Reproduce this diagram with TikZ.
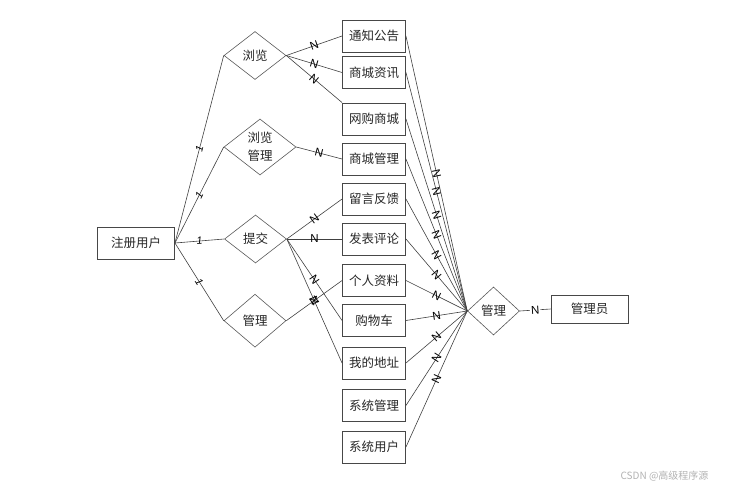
\documentclass[tikz,border=0pt]{standalone}
\usepackage{fontspec}
\setmainfont{Liberation Sans}
\newfontfamily\cjk{Noto Sans CJK SC}
\usetikzlibrary{shapes.geometric}
\begin{document}
\begin{tikzpicture}[x=1pt,y=-1pt,
  ent/.style={draw=black!72,line width=0.9pt,minimum width=63pt,minimum height=32pt,inner sep=0pt,font=\cjk\fontsize{12.5}{16}\selectfont,text=black!85},
  rel/.style={diamond,draw=black!65,line width=0.6pt,inner sep=0pt,font=\cjk\fontsize{12.5}{18}\selectfont,text=black!85,align=center},
  conn/.style={draw=black!75,line width=0.6pt},
  lab/.style={font=\fontsize{11.5}{11.5}\selectfont,inner sep=0pt,sloped},
  one/.style={font=\fontsize{10.5}{10.5}\selectfont\itshape,inner sep=0pt,sloped}]
\useasboundingbox (0,0) rectangle (732,490);
% left entity
\node[ent,minimum width=77pt,minimum height=32pt] (u) at (136,243) {注册用户};
% left relationships
\node[rel,minimum width=62pt,minimum height=48pt] (d1) at (255,55.5) {浏览};
\node[rel,minimum width=72pt,minimum height=56pt] (d2) at (260,147) {浏览\\管理};
\node[rel,minimum width=62pt,minimum height=48pt] (d3) at (255.5,239) {提交};
\node[rel,minimum width=62pt,minimum height=53pt] (d4) at (255,320.7) {管理};
% middle entities
\node[ent] (b1) at (374,36) {通知公告};
\node[ent] (b2) at (374,72.5) {商城资讯};
\node[ent] (b3) at (374,119) {网购商城};
\node[ent] (b4) at (374,159) {商城管理};
\node[ent] (b5) at (374,199) {留言反馈};
\node[ent] (b6) at (374,239) {发表评论};
\node[ent] (b7) at (374,280.5) {个人资料};
\node[ent] (b8) at (374,320.5) {购物车};
\node[ent] (b9) at (374,363) {我的地址};
\node[ent] (b10) at (374,405.5) {系统管理};
\node[ent] (b11) at (374,447) {系统用户};
% right
\node[rel,minimum width=52pt,minimum height=48pt] (dm) at (493.5,311) {管理};
\node[ent,minimum width=77pt,minimum height=28pt] (adm) at (589.5,309) {管理员};
% user to relationships
\draw[conn] (u.east) -- node[one]{1} (d1.west);
\draw[conn] (u.east) -- node[one]{1} (d2.west);
\draw[conn] (u.east) -- node[one]{1} (d3.west);
\draw[conn] (u.east) -- node[one]{1} (d4.west);
% relationships to entities
\draw[conn] (d1.east) -- node[lab]{N} (b1.west);
\draw[conn] (d1.east) -- node[lab]{N} (b2.west);
\draw[conn] (d1.east) -- node[lab]{N} (b3.north west);
\draw[conn] (d2.east) -- node[lab]{N} (b4.west);
\draw[conn] (d3.east) -- node[lab]{N} (b5.west);
\draw[conn] (d3.east) -- node[lab]{N} (b6.west);
\draw[conn] (d3.east) -- node[lab]{N} (b8.west);
\draw[conn] (d3.east) -- node[lab]{N} (b9.west);
\draw[conn] (d4.east) -- node[lab]{N} (b7.west);
% entities to admin relationship
\foreach \b in {b1,b2,b3,b4,b5,b6,b7,b8,b9,b10,b11}
  \draw[conn] (\b.east) -- node[lab]{N} (dm.west);
\draw[conn] (dm.east) -- node[lab,fill=white,inner sep=1pt]{N} (adm.west);
% watermark
\node[font=\cjk\fontsize{10}{12}\selectfont,text=black!30,anchor=east] (wm) at (712,476) {CSDN @高级程序源};
\end{tikzpicture}
\end{document}
